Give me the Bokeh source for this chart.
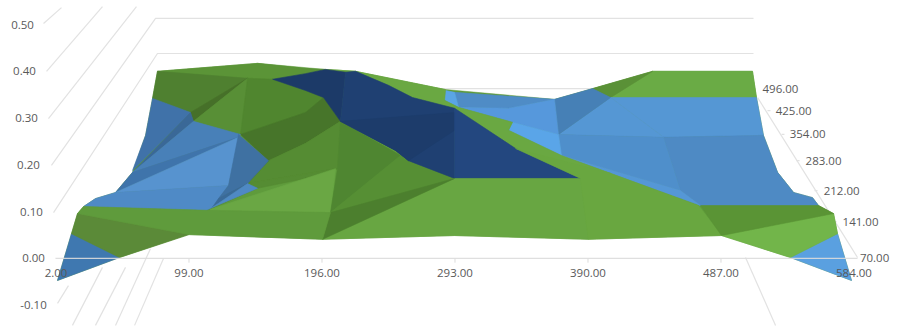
from bokeh.plotting import figure
from bokeh.models import Range1d
from bokeh.core.properties import value
from bokeh.embed import file_html
from bokeh.resources import INLINE

# Axis labels, in chart units
category_ticks = [2, 99, 196, 293, 390, 487, 584]
value_ticks = [0.5, 0.4, 0.3, 0.2, 0.1, 0.0, -0.1]
value_tick_x = [-22.4, -21.0, -19.5, -18.1, -15.9, -14.4, -14.4]
series_ticks = ["496.00", "425.00", "354.00", "283.00", "212.00", "141.00", "70.00"]
series_tick_x = [530.4, 540.0, 550.2, 561.8, 575.0, 588.8, 599.0]
series_tick_y = [0.363, 0.316, 0.265, 0.209, 0.145, 0.079, 0.0]

# Walls and floor of the 3-D box
grid_x = [[76.0, 510.7], [-7.1, 6.0], [-4.9, 35.9], [-3.5, 60.7],
          [-1.3, 74.6, 510.7], [0.2, 76.0, 510.7],
          [3.1, 11.1], [14.0, 35.9], [30.8, 52.7], [45.4, 70.9], [59.3, 80.4],
          [513.7, 586.6], [504.9, 526.8],
          [510, 512], [520.9, 523.1], [531.2, 533.3], [542.1, 544.3], [555.2, 557.4], [569.1, 571.3]]
grid_y = [[0.363, 0.363], [0.502, 0.536], [0.400, 0.538], [0.299, 0.538],
          [0.199, 0.513, 0.513], [0.098, 0.438, 0.438],
          [-0.096, -0.058], [-0.143, -0.019], [-0.143, -0.019], [-0.143, 0.021], [-0.143, 0.0],
          [0.344, 0.002], [0.002, -0.143],
          [0.363, 0.363], [0.316, 0.316], [0.265, 0.265], [0.209, 0.209], [0.145, 0.145], [0.079, 0.079]]

# Surface outline, filled first so that the facets sit on a closed sheet
outline_x = [76, 149, 198.6, 220.5, 286.1, 365.6, 393.3, 437.1, 510, 512.9, 518, 528.3, 540, 553.8, 558.2,
             569.1, 572, 582.2, 537.7, 487.4, 390.4, 292.7, 196.4, 98.9, 48.3, 3.1, 13.3, 17.7, 22.1, 30.8,
             45.4, 57.8, 67.3, 72.4]
outline_y = [0.400, 0.417, 0.404, 0.400, 0.361, 0.340, 0.363, 0.400, 0.400, 0.344, 0.263, 0.184, 0.141, 0.130,
             0.113, 0.096, 0.053, -0.047, 0.002, 0.049, 0.041, 0.049, 0.041, 0.051, 0.002, -0.047, 0.053, 0.096,
             0.111, 0.128, 0.141, 0.184, 0.263, 0.342]

# Surface facets, painted back to front
facet_x = [
    [76.0, 149.0, 184.0, 198.6, 184.0, 160.0, 141.7],
    [76.0, 141.7, 100.1, 72.4],
    [141.7, 102.3, 100.1],
    [141.7, 136.6, 102.3],
    [141.7, 160.0, 184.0, 197.1, 184.0, 136.6],
    [184.0, 197.1, 209.5, 184.0, 157.0, 136.6],
    [209.5, 207.3, 141.7, 157.0, 184.0],
    [112.5, 141.7, 207.3, 184.0, 149.0],
    [112.5, 184.0, 205.9, 202.2],
    [112.5, 141.7, 157.0],
    [209.5, 253.3, 202.2, 207.3],
    [253.3, 259.1, 292.7, 202.2],
    [72.4, 100.1, 57.8, 67.3],
    [100.1, 102.3, 57.8],
    [102.3, 136.6, 135.1, 57.8],
    [57.8, 135.1, 45.4],
    [45.4, 135.1, 127.8],
    [22.1, 30.8, 45.4, 127.8, 116.0, 111.8],
    [135.1, 157.0, 141.7, 120.5, 127.8],
    [120.5, 141.7, 116.0],
    [141.7, 149.0, 116.0],
    [437.1, 510.0, 512.9, 406.5],
    [393.3, 437.1, 406.5],
    [406.5, 512.9, 518.0, 445.1],
    [445.1, 518.0, 528.3, 540.0, 553.8, 558.2, 472.1, 457.5],
    [368.5, 406.5, 445.1],
    [368.5, 445.1, 457.5, 370.7],
    [370.7, 457.5, 472.1, 406.5],
    [365.6, 393.3, 406.5, 368.5],
    [292.7, 365.6, 332.1, 295.6],
    [295.6, 332.1, 365.6, 368.5, 335.0],
    [335.0, 368.5, 370.7, 332.1],
    [286.1, 292.7, 295.6, 285.4],
    [198.6, 220.5, 286.1, 285.4, 295.6, 335.0, 332.1, 370.7, 406.5, 384.6, 337.2, 292.7, 262.0, 244.5, 220.5],
    [160.0, 184.0, 198.6, 213.2, 209.5, 197.1, 184.0],
    [213.2, 220.5, 244.5, 262.0, 292.7, 292.7, 259.1, 249.6, 209.5],
    [209.5, 292.7, 292.7, 259.1, 249.6],
    [292.7, 337.2, 384.6, 292.7],
    [196.4, 292.7, 384.6, 390.4, 292.7],
    [384.6, 337.2, 406.5, 470.6, 487.4, 390.4],
    [292.7, 202.2, 196.4],
    [3.1, 13.3, 48.3],
    [17.7, 13.3, 48.3, 98.9],
    [17.7, 22.1, 111.8, 202.2, 196.4, 98.9],
    [537.7, 572.0, 582.2],
    [487.4, 537.7, 572.0, 569.1],
    [472.1, 558.2, 569.1, 487.4],
]
facet_y = [
    [0.400, 0.417, 0.406, 0.404, 0.395, 0.383, 0.385],
    [0.400, 0.385, 0.312, 0.342],
    [0.385, 0.293, 0.312],
    [0.385, 0.265, 0.293],
    [0.385, 0.383, 0.359, 0.344, 0.312, 0.265],
    [0.312, 0.344, 0.293, 0.246, 0.209, 0.265],
    [0.293, 0.192, 0.160, 0.209, 0.246],
    [0.103, 0.160, 0.192, 0.171, 0.150],
    [0.103, 0.171, 0.192, 0.098],
    [0.103, 0.160, 0.209],
    [0.293, 0.220, 0.098, 0.192],
    [0.220, 0.209, 0.171, 0.098],
    [0.342, 0.312, 0.188, 0.263],
    [0.312, 0.293, 0.184],
    [0.293, 0.265, 0.259, 0.184],
    [0.184, 0.259, 0.141],
    [0.141, 0.259, 0.156],
    [0.111, 0.128, 0.141, 0.156, 0.109, 0.103],
    [0.265, 0.209, 0.160, 0.128, 0.156],
    [0.128, 0.160, 0.109],
    [0.160, 0.150, 0.109],
    [0.400, 0.400, 0.344, 0.344],
    [0.363, 0.400, 0.344],
    [0.344, 0.344, 0.263, 0.259],
    [0.259, 0.263, 0.184, 0.141, 0.130, 0.113, 0.113, 0.145],
    [0.265, 0.344, 0.259],
    [0.265, 0.259, 0.145, 0.220],
    [0.220, 0.145, 0.113, 0.182],
    [0.340, 0.363, 0.344, 0.265],
    [0.355, 0.340, 0.321, 0.323],
    [0.323, 0.321, 0.340, 0.265, 0.291],
    [0.291, 0.265, 0.220, 0.274],
    [0.359, 0.355, 0.323, 0.338],
    [0.404, 0.400, 0.361, 0.338, 0.323, 0.291, 0.274, 0.220, 0.182, 0.171, 0.235, 0.321, 0.344, 0.370, 0.400],
    [0.383, 0.395, 0.404, 0.398, 0.293, 0.344, 0.359],
    [0.398, 0.400, 0.370, 0.344, 0.321, 0.171, 0.209, 0.231, 0.293],
    [0.293, 0.312, 0.274, 0.209, 0.231],
    [0.321, 0.235, 0.171, 0.171],
    [0.041, 0.171, 0.171, 0.041, 0.049],
    [0.171, 0.235, 0.182, 0.113, 0.049, 0.041],
    [0.171, 0.098, 0.041],
    [-0.047, 0.053, 0.002],
    [0.096, 0.053, 0.002, 0.051],
    [0.096, 0.111, 0.103, 0.098, 0.041, 0.051],
    [0.002, 0.053, -0.047],
    [0.049, 0.002, 0.053, 0.096],
    [0.113, 0.113, 0.096, 0.049],
]
facet_colors = [
    "#5b9437", "#4f8030", "#467029", "#588f36", "#50862f", "#47752a",
    "#558c33", "#558c33", "#6aa744", "#4a7b2c", "#4f8631", "#568f34",
    "#4072a9", "#3a6897", "#4880b8", "#3f74ab", "#5793cf", "#4f8ac6",
    "#3f71a2", "#3a6a99", "#4f89c4",
    "#6aab45", "#5a9137", "#5597d4", "#4e8ac4", "#5597d4", "#4f8fcb",
    "#5597d6", "#4680b6", "#4f8cc6", "#5698dc", "#5aa5e8", "#5aa5e5",
    "#6aa842", "#1c3a68", "#1f4072", "#1d3c6b", "#23477f",
    "#68a642", "#69a740", "#4c7f2e",
    "#3f78b0", "#5b8a38", "#5f9b3c", "#5aa0e0", "#72b54a", "#5a9435",
]

# Zero line, drawn across the surface, with the category tick marks below it
baseline_x = [1.6, 586.6]
baseline_y = [0.0, 0.0]
tick_drop = -0.009

p = figure(width=916, height=329, output_backend="svg", toolbar_location=None,
           x_range=Range1d(-38.48, 629.6), y_range=Range1d(-0.1518, 0.5513),
           x_axis_location=None, y_axis_location=None, min_border=0,
           outline_line_color=None, background_fill_color="white")
p.grid.visible = False

p.multi_line(grid_x, grid_y, line_color="#e2e2e2", line_width=1.2)
p.patch(outline_x, outline_y, fill_color="#5f9b3c", line_color="#5f9b3c", line_width=0.5)
p.patches(facet_x, facet_y, fill_color=facet_colors, line_color=facet_colors, line_width=0.6)
p.line(baseline_x, baseline_y, line_color="#dcdcdc", line_width=1.3, line_alpha=0.9)
p.segment(category_ticks[1:-1], [0] * 5, category_ticks[1:-1], [tick_drop] * 5,
          line_color="#dcdcdc", line_width=1)

label_style = dict(text_font=value("Open Sans"), text_font_size="11.5px", text_color="#595959",
                   text_align="center", text_baseline="middle")
p.text(category_ticks, [-0.032] * 7, text=[f"{v:.2f}" for v in category_ticks], **label_style)
p.text(value_tick_x, value_ticks, text=[f"{v:.2f}" for v in value_ticks], **label_style)
p.text(series_tick_x, series_tick_y, text=series_ticks, **label_style)

open("out.html", "w").write(file_html(p, INLINE))
